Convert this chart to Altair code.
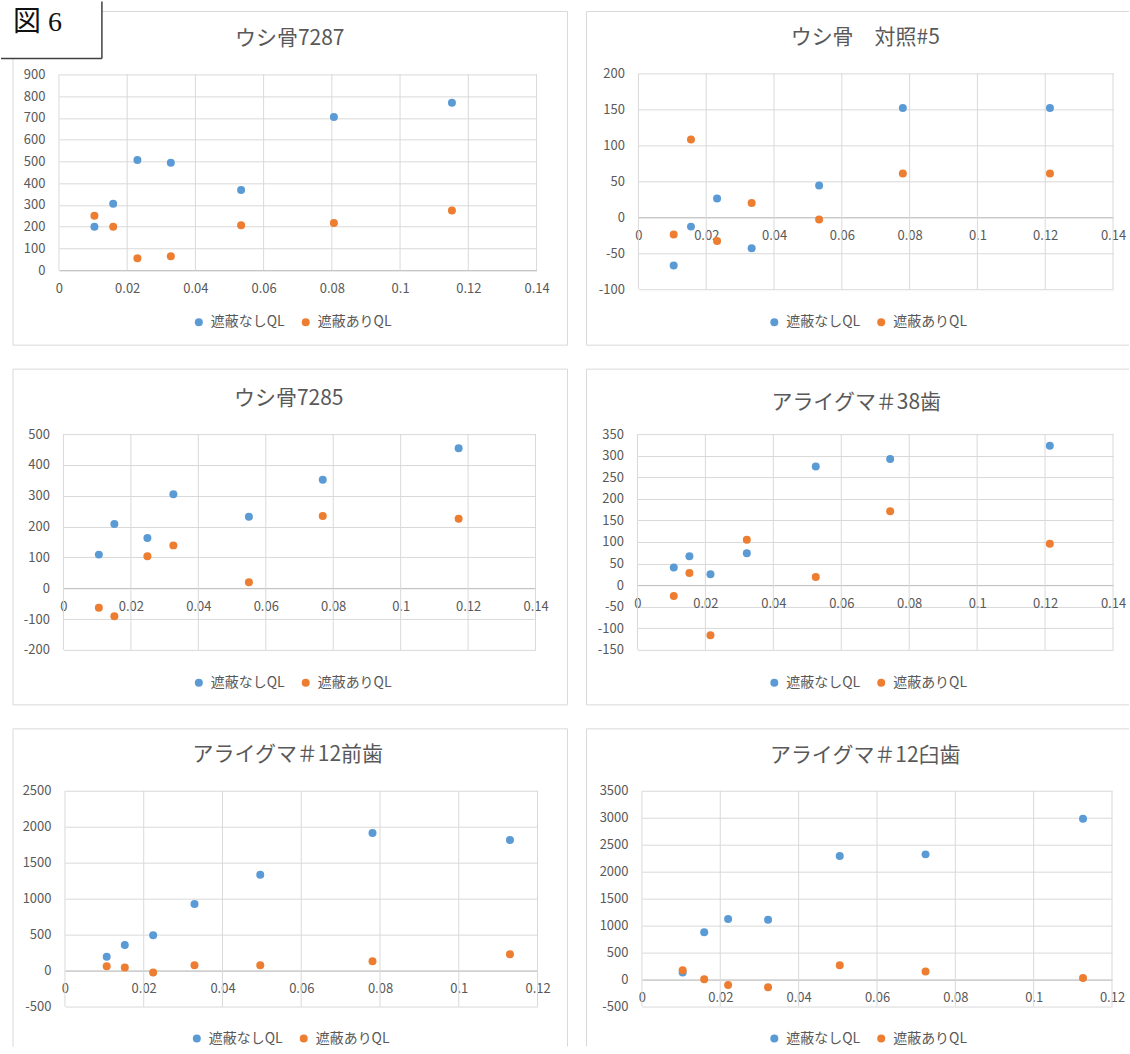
import altair as alt
import pandas as pd

FONT = "Noto Sans CJK JP"
TEXT_GRAY = "#595959"
GRID_GRAY = "#D9D9D9"
FRAME_GRAY = "#D9D9D9"
POINT_SIZE = 64

SERIES = ["遮蔽なしQL", "遮蔽ありQL"]
SERIES_COLORS = ["#5B9BD5", "#ED7D31"]

TITLES = [
    "ウシ骨7287",
    "ウシ骨　対照#5",
    "ウシ骨7285",
    "アライグマ＃38歯",
    "アライグマ＃12前歯",
    "アライグマ＃12臼歯",
]

# ウシ骨7287
x_7287 = [0.0104, 0.0159, 0.0230, 0.0328, 0.0534, 0.0806, 0.1152]
open_7287 = [200, 305, 507, 494, 369, 704, 770]
shield_7287 = [250, 200, 55, 64, 207, 217, 274]

# ウシ骨 対照#5
x_c5 = [0.0104, 0.0155, 0.0232, 0.0334, 0.0533, 0.0780, 0.1214]
open_c5 = [-67, -13, 26, -43, 44, 152, 152]
shield_c5 = [-24, 108, -33, 20, -3, 61, 61]

# ウシ骨7285
x_7285 = [0.0105, 0.0151, 0.0249, 0.0326, 0.0550, 0.0769, 0.1172]
open_7285 = [109, 208, 163, 305, 232, 352, 454]
shield_7285 = [-63, -91, 104, 139, 19, 234, 225]

# アライグマ＃38歯
x_r38 = [0.0107, 0.0153, 0.0215, 0.0322, 0.0525, 0.0744, 0.1214]
open_r38 = [41, 67, 25, 74, 275, 292, 323]
shield_r38 = [-25, 28, -116, 105, 19, 171, 96]

# アライグマ＃12前歯
x_r12f = [0.0106, 0.0152, 0.0224, 0.0329, 0.0496, 0.0781, 0.1130]
open_r12f = [194, 356, 491, 926, 1333, 1912, 1815]
shield_r12f = [60, 42, -28, 74, 74, 130, 227]

# アライグマ＃12臼歯
x_r12m = [0.0104, 0.0159, 0.0220, 0.0322, 0.0505, 0.0724, 0.1126]
open_r12m = [130, 876, 1124, 1111, 2290, 2321, 2981]
shield_r12m = [173, 6, -99, -142, 265, 148, 31]

X_TICKS_14 = [0, 0.02, 0.04, 0.06, 0.08, 0.1, 0.12, 0.14]
X_TICKS_12 = [0, 0.02, 0.04, 0.06, 0.08, 0.1, 0.12]
Y_TICKS = [
    [0, 100, 200, 300, 400, 500, 600, 700, 800, 900],
    [-100, -50, 0, 50, 100, 150, 200],
    [-200, -100, 0, 100, 200, 300, 400, 500],
    [-150, -100, -50, 0, 50, 100, 150, 200, 250, 300, 350],
    [-500, 0, 500, 1000, 1500, 2000, 2500],
    [-500, 0, 500, 1000, 1500, 2000, 2500, 3000, 3500],
]
X_TICKS = [X_TICKS_14, X_TICKS_14, X_TICKS_14, X_TICKS_14, X_TICKS_12, X_TICKS_12]

SERIES_DATA = [
    (x_7287, open_7287, shield_7287),
    (x_c5, open_c5, shield_c5),
    (x_7285, open_7285, shield_7285),
    (x_r38, open_r38, shield_r38),
    (x_r12f, open_r12f, shield_r12f),
    (x_r12m, open_r12m, shield_r12m),
]

# Page layout (page pixels): chart-area frame, plot box, title centre, legend anchor
LAYOUT = [
    dict(frame=(12, 10, 555, 334), plot=(58, 536, 73, 269), title=(289, 38), legend=(191, 321), edges="LTRB"),
    dict(frame=(586, 10, 543, 334), plot=(638, 1113, 72, 288), title=(865, 37), legend=(767, 321), edges="LTB"),
    dict(frame=(12, 368, 555, 336), plot=(62.5, 535, 433, 649), title=(288, 398), legend=(191, 682), edges="LTRB"),
    dict(frame=(586, 368, 543, 336), plot=(637, 1113, 433, 649), title=(856, 402), legend=(767, 682), edges="LTB"),
    dict(frame=(12, 728, 555, 318), plot=(64, 537, 790, 1006), title=(287, 754), legend=(189, 1038), edges="LTR"),
    dict(frame=(586, 728, 543, 318), plot=(641.5, 1112, 790, 1006), title=(865, 755), legend=(767, 1038), edges="LT"),
]

ONE = pd.DataFrame({"k": [0]})


def hrule(x1, x2, y, color, width):
    return alt.Chart(ONE).mark_rule(color=color, strokeWidth=width).encode(
        x=alt.value(x1), x2=alt.value(x2), y=alt.value(y)
    )


def vrule(x, y1, y2, color, width):
    return alt.Chart(ONE).mark_rule(color=color, strokeWidth=width).encode(
        x=alt.value(x), y=alt.value(y1), y2=alt.value(y2)
    )


def make_panel(i):
    lay = LAYOUT[i]
    fx, fy, W, H = lay["frame"]
    pl, pr, pt, pb = lay["plot"]
    xs, open_vals, shield_vals = SERIES_DATA[i]
    xticks, yticks = X_TICKS[i], Y_TICKS[i]

    df = pd.DataFrame({
        "x": list(xs) + list(xs),
        "y": list(open_vals) + list(shield_vals),
        "series": [SERIES[0]] * len(xs) + [SERIES[1]] * len(xs),
    })
    tick_df = pd.DataFrame({"x": xticks})

    xr = [pl - fx, pr - fx]
    yr = [pb - fy, pt - fy]
    ymin, ymax = yticks[0], yticks[-1]
    zero_y = yr[0] - (0 - ymin) / (ymax - ymin) * (yr[0] - yr[1])

    x_scale = alt.Scale(domain=[xticks[0], xticks[-1]], range=xr, nice=False, zero=False)
    y_scale = alt.Scale(domain=[ymin, ymax], range=yr, nice=False, zero=False)

    x_axis = alt.Axis(
        values=xticks, labelExpr="'' + datum.value", title=None,
        offset=-(H - zero_y), grid=False, domain=True, ticks=False, tickSize=0,
        labelPadding=12, labelFlush=False, labelOverlap=False,
    )
    y_axis = alt.Axis(
        values=yticks, labelExpr="'' + datum.value", title=None,
        offset=-xr[0], grid=True, domain=False, ticks=False, tickSize=0,
        labelPadding=14, labelOverlap=False, labelFlush=False,
    )

    lx, ly = lay["legend"]
    legend = alt.Legend(
        orient="none", legendX=lx - fx, legendY=ly - fy - 7, direction="horizontal",
        title=None, symbolType="circle", symbolSize=POINT_SIZE, symbolStrokeWidth=0,
        labelFont=FONT, labelFontSize=14, labelColor=TEXT_GRAY,
        labelOffset=5, columnPadding=14, padding=0,
    )

    # vertical gridlines at each x tick, spanning the plot box
    x_grid = alt.Chart(tick_df).mark_rule(color=GRID_GRAY, strokeWidth=1).encode(
        x=alt.X("x:Q", scale=x_scale, axis=x_axis),
        y=alt.value(yr[1]), y2=alt.value(yr[0]),
    )

    points = alt.Chart(df).mark_circle(size=POINT_SIZE, opacity=1).encode(
        x=alt.X("x:Q", scale=x_scale, axis=x_axis),
        y=alt.Y("y:Q", scale=y_scale, axis=y_axis),
        color=alt.Color("series:N", scale=alt.Scale(domain=SERIES, range=SERIES_COLORS), legend=legend),
    )

    tx, ty = lay["title"]
    title = alt.Chart(ONE).mark_text(
        font=FONT, fontSize=21, color=TEXT_GRAY, align="center", baseline="middle"
    ).encode(x=alt.value(tx - fx), y=alt.value(ty - fy), text=alt.value(TITLES[i]))

    layers = []
    edges = lay["edges"]
    if "T" in edges:
        layers.append(hrule(0, W, 0, FRAME_GRAY, 1))
    if "B" in edges:
        layers.append(hrule(0, W, H, FRAME_GRAY, 1))
    if "L" in edges:
        layers.append(vrule(0, 0, H, FRAME_GRAY, 1))
    if "R" in edges:
        layers.append(vrule(W, 0, H, FRAME_GRAY, 1))
    layers += [x_grid, points, title]

    if i == 0:
        # figure label box in the top-left corner of the page
        bx2, by2 = 101, 57
        box = alt.Chart(ONE).mark_rect(fill="white").encode(
            x=alt.value(-fx), x2=alt.value(bx2 - fx), y=alt.value(-fy), y2=alt.value(by2 - fy)
        )
        box_r = vrule(bx2 - fx, -fy, by2 - fy, "#404040", 1.5)
        box_b = hrule(-fx, bx2 - fx, by2 - fy, "#404040", 1.5)
        fig_label = alt.Chart(ONE).mark_text(
            font="Liberation Serif, Noto Sans CJK JP", fontSize=28, color="#111111",
            align="left", baseline="middle",
        ).encode(x=alt.value(12 - fx), y=alt.value(22 - fy), text=alt.value("図 6"))
        layers += [box, box_r, box_b, fig_label]

    return alt.layer(*layers).properties(width=W, height=H)


panels = [make_panel(i) for i in range(6)]

chart = (
    alt.concat(*panels, columns=2, spacing={"row": 24, "column": 19}, bounds="flush", align="each")
    .resolve_scale(x="independent", y="independent", color="independent")
    .resolve_legend(color="independent")
    .properties(padding=0, background="white")
    .configure_view(stroke=None)
    .configure_axis(
        gridColor=GRID_GRAY, gridWidth=1, domainColor="#BFBFBF", domainWidth=1,
        labelFont=FONT, labelFontSize=13, labelColor=TEXT_GRAY,
    )
)

chart.save("out.html", embed_options={"renderer": "svg", "actions": False})
